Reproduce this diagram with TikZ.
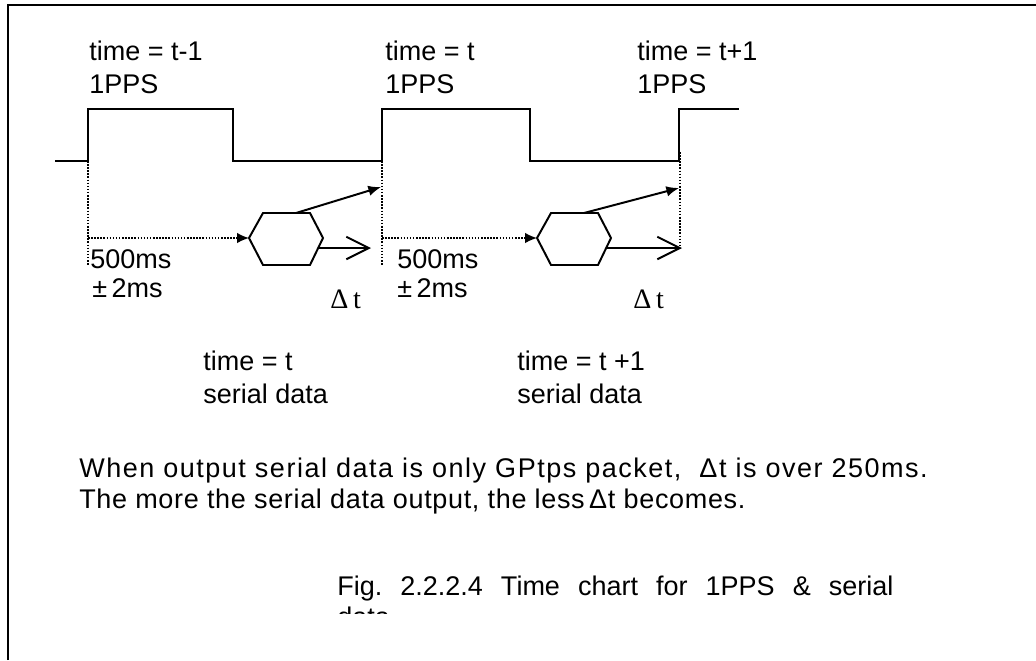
\documentclass[tikz,border=0pt]{standalone}
\usepackage{fontspec}
\setmainfont{Liberation Sans}
\newfontfamily\dtfont{Liberation Serif}
\usetikzlibrary{arrows.meta}

\begin{document}
\begin{tikzpicture}[x=0.025cm, y=-0.025cm, >=Latex,
    wave/.style={line width=1.4pt, line join=miter},
    guide/.style={line width=1.1pt, dash pattern=on 1.1pt off 1.1pt},
    txt/.style={anchor=base west, inner sep=0pt, align=left,
      font=\fontsize{19.2}{22.8}\selectfont}]
  \useasboundingbox (0,0) rectangle (1036,660);

  % frame
  \draw[wave] (8,660) -- (8,5) -- (1036,5);

  % 1PPS pulse train
  \coordinate (rA) at (88,161);
  \coordinate (rB) at (382,161);
  \coordinate (rC) at (680,152);
  \draw[wave] (55,161) -- (rA) -- (88,109) -- (233,109) -- (233,161)
    -- (rB) -- (382,109) -- (530,109) -- (530,161) -- (679,161)
    -- (679,109) -- (739,109);

  % (base of a two-line node = baseline of its last line)
  \node[txt] (tA) at (89,93) {time = t-1\\1PPS};
  \node[txt] (tB) at (385,93) {time = t\\1PPS};
  \node[txt] (tC) at (637,93) {time = t+1\\1PPS};

  % serial data packets
  \foreach \n/\dx in {A/0, B/288} {
    \coordinate (hex\n-w) at (249+\dx,238);
    \coordinate (hex\n-nw) at (263+\dx,213);
    \coordinate (hex\n-ne) at (310+\dx,213);
    \coordinate (hex\n-e) at (323+\dx,238);
    \coordinate (hex\n-se) at (310+\dx,265);
    \coordinate (hex\n-sw) at (263+\dx,265);
    \coordinate (hex\n-top) at (296+\dx,213);
    \coordinate (hex\n-out) at (318+\dx,248);
    \draw[wave] (hex\n-w) -- (hex\n-nw) -- (hex\n-ne) -- (hex\n-e)
      -- (hex\n-se) -- (hex\n-sw) -- cycle;
  }

  \coordinate (pA) at (88,238);
  \coordinate (pB) at (382,238);
  \coordinate (fA) at (88,266);
  \coordinate (fB) at (382,266);
  \coordinate (fC) at (680,248);
  \coordinate (eA) at (381,187);
  \coordinate (eB) at (679,188);
  \coordinate (dA) at (371,248);
  \coordinate (dB) at (682,248);

  \draw[guide] (rA) -- (fA);
  \draw[guide] (rB) -- (fB);
  \draw[guide] (rC) -- (fC);

  \draw[guide, -{Latex[length=8.5pt, width=7.5pt]}] (pA) -- (hexA-w);
  \draw[guide, -{Latex[length=8.5pt, width=7.5pt]}] (pB) -- (hexB-w);
  \draw[wave, -{Latex[length=9pt, width=7.5pt]}] (hexA-top) -- (eA);
  \draw[wave, -{Latex[length=9pt, width=7.5pt]}] (hexB-top) -- (eB);
  \draw[wave, -{Straight Barb[length=16pt, width=16pt]}] (hexA-out) -- (dA);
  \draw[wave, -{Straight Barb[length=16pt, width=16pt]}] (hexB-out) -- (dB);

  \node[txt] (msA) at (90,268) {500ms};
  \node[txt] (tolA) at (92,297) {±\,2ms};
  \node[txt] (msB) at (397,268) {500ms};
  \node[txt] (tolB) at (397,297) {±\,2ms};
  \node[txt, font=\fontsize{20}{22.8}\dtfont] (dtA) at (330,308) {Δ\,t};
  \node[txt, font=\fontsize{20}{22.8}\dtfont] (dtB) at (633,308) {Δ\,t};

  \node[txt] (sA) at (203,403) {time = t\\serial data};
  \node[txt] (sB) at (517,403) {time = t +1\\serial data};

  \node[txt, font=\fontsize{19.2}{22}\selectfont] (note) at (79,508)
    {{\addfontfeature{LetterSpace=5.6}When output serial data is only GPtps packet,\ \ Δt is over 250ms.}\\
     {\addfontfeature{LetterSpace=2.5}The more the serial data output, the less\,Δt becomes.}};

  \node[txt] (cap) at (337,595)
    {\frenchspacing\makebox[13.9cm][s]{Fig. 2.2.2.4 Time chart for 1PPS \& serial}};
  \begin{scope}
    \clip (300,598) rectangle (500,613);
    \node[txt] (capB) at (337,626) {data};
  \end{scope}
\end{tikzpicture}
\end{document}
